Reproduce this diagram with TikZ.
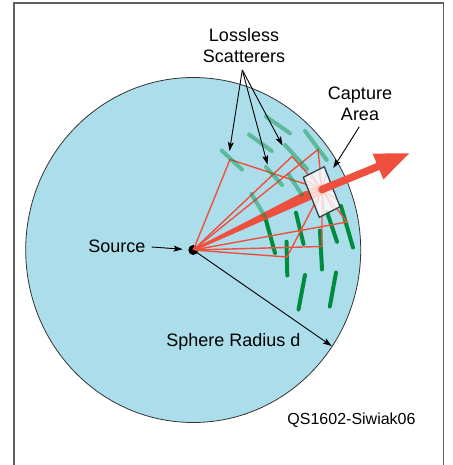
\documentclass[tikz,border=0pt]{standalone}
\usepackage{fontspec}
\setmainfont{Liberation Sans}
\usetikzlibrary{arrows.meta,calc}
\definecolor{sphere}{RGB}{171,222,234}
\definecolor{ray}{RGB}{239,80,62}
\definecolor{scat}{RGB}{0,140,60}
\definecolor{framec}{RGB}{95,95,95}
\definecolor{boxc}{RGB}{55,65,70}
\begin{document}
\begin{tikzpicture}[x=1pt,y=-1pt,
  lbl/.style={inner sep=0pt, font=\fontsize{18}{21}\selectfont, align=center},
  lead/.style={draw=black, line width=0.9pt, -{Stealth[length=9pt,width=6pt,inset=2pt]}},
  scatS/.style={draw=scat, line width=4pt, line cap=round},
  scatF/.style={scatS, draw opacity=0.45},
  rpath/.style={draw=ray, line width=1.4pt, line join=miter}]
\useasboundingbox (0,0) rectangle (452,465);
% frame
\draw[framec, line width=1.3pt] (14,468) -- (14,3) -- (443.8,3) -- (443.8,468);
% sphere
\filldraw[fill=sphere, draw=black!80, line width=0.8pt] (193.2,250) ellipse [x radius=167.5pt, y radius=172.5pt];
% key points
\node[circle, fill=black, minimum size=10pt, inner sep=0pt] (S) at (193.3,250) {};
\coordinate (X) at (322,189.5);
\coordinate (A) at (230,159.5);
\coordinate (C) at (292,156.5);
\coordinate (B) at (318,149.5);
\coordinate (D) at (347,222);
\coordinate (E) at (322,246.5);
\coordinate (F) at (287,257);
\coordinate (G) at (305,192);
% solid scatterers
\foreach \p/\q in {{(265,216.7)}/{(275,253)}, {(296,212.7)}/{(303.5,244)}, {(286.5,241.7)}/{(287.3,275.5)},
  {(320,230.5)}/{(322,269.5)}, {(327,212)}/{(337,241.7)}, {(341,206)}/{(353,247.5)},
  {(305,275)}/{(298.5,309.5)}, {(336,272.5)}/{(329.8,306.5)}}
  \draw[scatS] \p -- \q;
% scattered rays
\foreach \p in {A,C,B,D,E,F,G}
  \draw[rpath] (S.center) -- (\p) -- (X);
% direct beam
\fill[ray] ($(S.center)!1.2pt!90:(X)$) -- ($(X)!5pt!-90:(S.center)$) -- ($(X)!5pt!90:(S.center)$) -- ($(S.center)!1.2pt!-90:(X)$) -- cycle;
% faded scatterers
\foreach \p/\q in {{(221.7,150.5)}/{(242,169.5)}, {(249,134.5)}/{(271.7,151)}, {(266,116.5)}/{(290,133.3)},
  {(305,131)}/{(326.7,160)}, {(285,145)}/{(307,169)}, {(266,167)}/{(282,185)},
  {(289,175)}/{(302,195)}, {(251.5,194)}/{(265,216.7)}}
  \draw[scatF] \p -- \q;
% capture area
\coordinate (P1) at (303.3,177.3);
\coordinate (P2) at (324.3,166.7);
\coordinate (P3) at (340,206.7);
\coordinate (P4) at (319.3,217.3);
\fill[white, fill opacity=0.8] (P1) -- (P2) -- (P3) -- (P4) -- cycle;
\begin{scope}
  \clip (P1) -- (P2) -- (P3) -- (P4) -- cycle;
  \foreach \a in {0,25,...,355} \draw[ray!30, line width=0.9pt] (X) -- ++(\a:25pt);
  \fill[ray!35] (X) circle (5pt);
\end{scope}
\draw[boxc, line width=1.3pt, line join=round] (P1) -- (P2) -- (P3) -- (P4) -- cycle;
% outgoing arrow
\coordinate (T) at (409.3,153.3);
\coordinate (HB) at (378,166.5);
\coordinate (H1) at (372.6,153.6);
\coordinate (H2) at (383.4,179.4);
\draw[ray, line width=7.5pt, line cap=round] (X) -- (HB);
\fill[ray] (H1) -- (T) -- (H2) -- cycle;
% labels
\node[lbl, anchor=base] (ls) at (244,62.7) {Lossless\\Scatterers};
\node[lbl, anchor=base] (ca) at (360,120.7) {Capture\\Area};
\node[lbl, anchor=base east] (src) at (145.7,252.5) {Source};
\node[lbl, anchor=base] (rad) at (233.5,346.5) {Sphere Radius d};
\node[inner sep=0pt, font=\fontsize{16}{18}\selectfont, anchor=base] (id) at (351.5,424.7) {QS1602-Siwiak06};
% leaders
\coordinate (lo) at (242.3,70);
\coordinate (t1) at (229.5,151);
\coordinate (t2) at (267.5,164.5);
\coordinate (t3) at (282.5,145.5);
\foreach \t in {t1,t2,t3} \draw[lead] (lo) -- (\t);
\coordinate (co) at (359.3,126.7);
\coordinate (ct) at (333.3,168);
\draw[lead] (co) -- (ct);
\draw[lead, shorten >=5.5pt] ([xshift=6pt,yshift=5.5pt]src.base east) -- (S);
\coordinate (R) at (331.7,346);
\draw[lead] (S.center) -- (R);
\end{tikzpicture}
\end{document}
